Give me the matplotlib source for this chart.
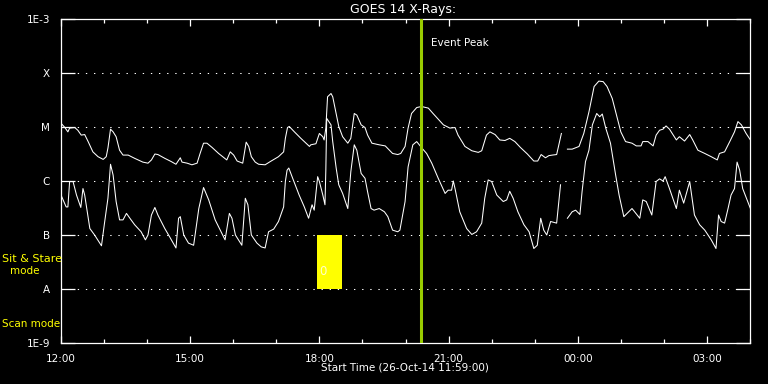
import numpy as np
import matplotlib
matplotlib.use("Agg")
import matplotlib.pyplot as plt
from matplotlib.patches import Rectangle
from matplotlib.ticker import FixedLocator, MultipleLocator, NullFormatter

# hours after 12:00 on 26-Oct-14, log10 of flux (W/m^2)
long_t = [0.0, 0.09, 0.16, 0.20, 0.32, 0.39, 0.47, 0.55, 0.63, 0.74, 0.86, 0.98,
          1.05, 1.09, 1.15, 1.21, 1.28, 1.36, 1.44, 1.56, 1.71, 1.90, 2.02, 2.10,
          2.18, 2.25, 2.41, 2.56, 2.67, 2.77, 2.81, 2.93, 3.04, 3.16, 3.23, 3.31,
          3.39, 3.51, 3.66, 3.85, 3.93, 4.01, 4.09, 4.22, 4.30, 4.36, 4.42, 4.51,
          4.59, 4.74, 4.86, 5.05, 5.17, 5.21, 5.26, 5.30, 5.42, 5.57, 5.77, 5.80,
          5.92, 6.00, 6.08, 6.11, 6.15, 6.19, 6.27, 6.31, 6.39, 6.45, 6.54, 6.66,
          6.73, 6.81, 6.87, 6.97, 7.06, 7.12, 7.22, 7.39, 7.53, 7.70, 7.82, 7.89,
          7.99, 8.06, 8.14, 8.26, 8.37, 8.53, 8.64, 8.88, 9.03, 9.15, 9.22, 9.38,
          9.54, 9.69, 9.77, 9.88, 9.96, 10.08, 10.19, 10.31, 10.42, 10.54, 10.61,
          10.67, 10.83, 10.98, 11.07, 11.15, 11.25, 11.33, 11.41, 11.51, 11.62,
          11.69,
          11.76, 11.87, 12.03, 12.14, 12.26, 12.38, 12.49, 12.59, 12.68, 12.80,
          12.92, 13.00, 13.11, 13.26, 13.36, 13.47, 13.51, 13.63, 13.75, 13.82,
          13.90, 13.98, 14.05, 14.13, 14.29, 14.36, 14.48, 14.60, 14.67, 14.79,
          14.95, 15.10, 15.24, 15.29, 15.41, 15.53, 15.64, 15.72, 15.80, 15.91, 16.01]
long_log = [-4.93, -5.01, -5.09, -5.02, -5.01, -5.06, -5.15, -5.14, -5.27, -5.46, -5.55, -5.60,
            -5.55, -5.39, -5.04, -5.09, -5.18, -5.43, -5.52, -5.52, -5.58, -5.65, -5.67, -5.61,
            -5.50, -5.51, -5.58, -5.64, -5.69, -5.57, -5.65, -5.67, -5.70, -5.67, -5.49, -5.30,
            -5.30, -5.38, -5.49, -5.61, -5.46, -5.52, -5.63, -5.67, -5.28, -5.36, -5.55, -5.65,
            -5.69, -5.70, -5.64, -5.55, -5.46, -5.21, -5.01, -4.99, -5.09, -5.21, -5.36, -5.33,
            -5.31, -5.12, -5.18, -5.24, -5.02, -4.44, -4.38, -4.44, -4.75, -4.99, -5.18, -5.30,
            -5.21, -4.75, -4.78, -4.96, -5.01, -5.15, -5.30, -5.33, -5.35, -5.49, -5.51, -5.49,
            -5.36, -5.02, -4.75, -4.64, -4.62, -4.65, -4.75, -4.96, -5.02, -5.01, -5.15, -5.36,
            -5.44, -5.47, -5.44, -5.15, -5.09, -5.14, -5.24, -5.25, -5.21, -5.27, -5.33,
            -5.38, -5.50, -5.63, -5.63, -5.51, -5.57, -5.53, -5.52, -5.51, -5.12,
            np.nan,
            -5.41, -5.41, -5.36, -5.12, -4.72, -4.25, -4.15, -4.16, -4.25, -4.47,
            -4.84, -5.09, -5.27, -5.30, -5.35, -5.35, -5.27, -5.27, -5.35, -5.15,
            -5.06, -5.04, -4.98, -5.04, -5.24, -5.18, -5.26, -5.14, -5.24, -5.43,
            -5.49, -5.55, -5.61, -5.49, -5.46, -5.27, -5.09, -4.90, -4.96, -5.12, -5.24]

short_t = [0.0, 0.12, 0.16, 0.20, 0.28, 0.36, 0.46, 0.51, 0.55, 0.67, 0.78, 0.94,
           1.01, 1.09, 1.15, 1.21, 1.28, 1.36, 1.44, 1.52, 1.60, 1.71, 1.86, 1.96,
           2.02, 2.10, 2.18, 2.25, 2.41, 2.52, 2.67, 2.73, 2.77, 2.85, 2.96, 3.08,
           3.20, 3.31, 3.43, 3.58, 3.81, 3.91, 3.97, 4.05, 4.20, 4.28, 4.34, 4.42,
           4.55, 4.65, 4.74, 4.82, 4.94, 5.05, 5.13, 5.17, 5.21, 5.25, 5.29, 5.38,
           5.53, 5.65, 5.75, 5.83, 5.88, 5.96, 6.00, 6.08, 6.13, 6.15, 6.17, 6.22,
           6.27, 6.31, 6.39, 6.45, 6.54, 6.66, 6.73, 6.81, 6.87, 6.97, 7.06, 7.12,
           7.20, 7.27, 7.39, 7.51, 7.59, 7.70, 7.82, 7.87, 7.99, 8.06, 8.17, 8.26,
           8.37, 8.49, 8.61, 8.76, 8.92, 8.99, 9.07, 9.11, 9.15, 9.26, 9.42, 9.54,
           9.65, 9.77, 9.84, 9.92, 10.00, 10.12, 10.27, 10.35, 10.42, 10.50, 10.61,
           10.75, 10.87, 10.98, 11.06, 11.14, 11.21, 11.28, 11.37, 11.51, 11.60,
           11.68,
           11.76, 11.87, 11.95, 12.05, 12.10, 12.18, 12.26, 12.34, 12.44, 12.51,
           12.57, 12.65, 12.76, 12.88, 12.96, 13.07, 13.26, 13.44, 13.51, 13.59,
           13.72, 13.82, 13.90, 13.98, 14.03, 14.13, 14.29, 14.36, 14.46, 14.60,
           14.71, 14.83, 14.95, 15.10, 15.21, 15.27, 15.33, 15.41, 15.49, 15.56,
           15.64, 15.70, 15.76, 15.83, 16.01]
short_log = [-6.26, -6.48, -6.48, -6.01, -6.01, -6.26, -6.49, -6.14, -6.26, -6.88, -7.00, -7.20,
             -6.78, -6.32, -5.69, -5.89, -6.38, -6.72, -6.72, -6.60, -6.69, -6.81, -6.94, -7.09,
             -7.00, -6.63, -6.49, -6.63, -6.88, -7.03, -7.24, -6.69, -6.66, -7.00, -7.15, -7.19,
             -6.51, -6.12, -6.35, -6.72, -7.09, -6.60, -6.69, -7.00, -7.19, -6.32, -6.44, -7.00,
             -7.15, -7.22, -7.24, -6.94, -6.89, -6.75, -6.57, -6.48, -6.01, -5.80, -5.76, -5.95,
             -6.26, -6.48, -6.69, -6.44, -6.54, -5.92, -6.01, -6.26, -6.44, -5.80, -4.84, -4.90,
             -4.96, -5.27, -5.76, -6.07, -6.23, -6.51, -5.83, -5.33, -5.43, -5.86, -5.95, -6.20,
             -6.51, -6.54, -6.51, -6.57, -6.66, -6.91, -6.94, -6.91, -6.38, -5.74, -5.33, -5.27,
             -5.38, -5.49, -5.67, -5.95, -6.23, -6.17, -6.17, -6.00, -6.14, -6.57, -6.88, -6.99,
             -6.94, -6.78, -6.32, -5.98, -6.01, -6.26, -6.38, -6.35, -6.19, -6.32, -6.57,
             -6.81, -6.94, -7.25, -7.19, -6.69, -6.91, -7.00, -6.75, -6.78, -6.07,
             np.nan,
             -6.69, -6.57, -6.54, -6.62, -6.20, -5.64, -5.43, -4.96, -4.75, -4.81,
             -4.76, -5.02, -5.30, -5.89, -6.26, -6.66, -6.51, -6.69, -6.35, -6.38,
             -6.63, -6.01, -5.96, -6.00, -5.92, -6.14, -6.51, -6.17, -6.41, -6.01,
             -6.63, -6.81, -6.91, -7.09, -7.25, -6.63, -6.75, -6.78, -6.51, -6.26,
             -6.14, -5.65, -5.80, -6.14, -6.51]

class_ticks = [1e-9, 1e-8, 1e-7, 1e-6, 1e-5, 1e-4, 1e-3]
class_labels = ['1E-9', 'A', 'B', 'C', 'M', 'X', '1E-3']
hour_ticks = [0, 3, 6, 9, 12, 15]
hour_labels = ['12:00', '15:00', '18:00', '21:00', '00:00', '03:00']
peak_t = 8.36
mode_t = (5.95, 6.53)
mode_band = (1e-8, 1e-7)

fig = plt.figure(figsize=(7.68, 3.84), dpi=100, facecolor='black')
ax = fig.add_axes([61/768, 1-343/384, 689/768, 324/384])
ax.set_facecolor('black')

ax.plot(long_t, 10**np.array(long_log), color='white', lw=0.75)
ax.plot(short_t, 10**np.array(short_log), color='white', lw=0.75)

# sit & stare mode block
ax.add_patch(Rectangle((mode_t[0], mode_band[0]), mode_t[1]-mode_t[0],
                       mode_band[1]-mode_band[0], color='#ffff00', lw=0, zorder=3))
ax.text(mode_t[0]+0.04, 10**-7.68, '0', color='#ffffcc', fontsize=8.5, va='center', zorder=4)

ax.axvline(peak_t, color='#99cc00', lw=2.2, zorder=5)
ax.text(peak_t+0.23, 10**-3.45, 'Event Peak', color='white', fontsize=7.5, va='center')

for v in class_ticks[1:-1]:
    ax.axhline(v, color='white', lw=0.75, ls=(0, (1.3, 6.5)), zorder=1)

ax.set_yscale('log')
ax.set_ylim(1e-9, 1e-3)
ax.set_xlim(0, 16.0)
ax.yaxis.set_major_locator(FixedLocator(class_ticks))
ax.yaxis.set_minor_formatter(NullFormatter())
ax.yaxis.set_minor_locator(FixedLocator([]))
ax.set_yticklabels(class_labels)
ax.set_xticks(hour_ticks)
ax.set_xticklabels(hour_labels)
ax.xaxis.set_minor_locator(MultipleLocator(1))

ax.tick_params(axis='both', which='both', colors='white', direction='in',
               top=True, right=True, labelsize=7.5, width=0.9)
ax.tick_params(axis='y', which='major', length=10, pad=8)
ax.tick_params(axis='x', which='major', length=5, pad=8)
ax.tick_params(axis='x', which='minor', length=3)
for s in ax.spines.values():
    s.set_color('white')
    s.set_linewidth(0.9)

fig.text(403/768, 1-10/384, 'GOES 14 X-Rays:', color='white', fontsize=9, ha='center', va='center')
fig.text(405/768, 1-368/384, 'Start Time (26-Oct-14 11:59:00)', color='white', fontsize=7.5,
         ha='center', va='center')
fig.text(2/768, 1-259/384, 'Sit & Stare', color='#ffff00', fontsize=8, va='center')
fig.text(25/768, 1-271/384, 'mode', color='#ffff00', fontsize=7.5, va='center', ha='center')
fig.text(2/768, 1-324/384, 'Scan mode', color='#ffff00', fontsize=7.5, va='center')

fig.savefig('out.png', dpi=100, facecolor='black')
